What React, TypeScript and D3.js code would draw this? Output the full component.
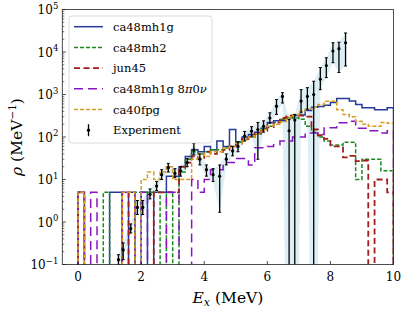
import React, { useEffect, useRef } from 'react';
import * as d3 from 'd3';

// histogram bins: 0.2 MeV wide, starting at 0 MeV (50 bins up to 10 MeV)
const binStart = 0;
const binWidth = 0.2;

const ca48mh1g = [5, 0, 0, 0, 0, 5, 5, 0, 5, 0, 5, 0, 5, 5, 12, 12, 20, 35, 50, 45, 60, 50, 80, 60, 150,
    75, 100, 115, 130, 160, 220, 240, 240, 280, 320, 330, 420, 500, 520, 560, 650, 800, 800, 700, 580, 490, 490, 440, 440, 490];
const ca48mh2 = [0, 0, 0, 0, 5, 0, 0, 0, 0, 5, 5, 5, 5, 0, 5, 0, 15, 30, 45, 40, 45, 50, 50, 55, 60,
    75, 90, 100, 120, 150, 180, 220, 260, 290, 280, 260, 180, 130, 100, 80, 65, 65, 75, 75, 10, 30, 30, 30, 16, 16];
const jun45 = [5, 0, 0, 0, 0, 0, 0, 5, 0, 0, 0, 0, 5, 5, 5, 5, 20, 25, 35, 30, 45, 40, 45, 50, 60,
    70, 90, 100, 120, 140, 170, 220, 280, 320, 330, 320, 300, 150, 110, 90, 60, 60, 33, 36, 27, 28, 0, 10, 10, 5];
const ca48mh1g8pi0nu = [5, 0, 5, 0, 0, 0, 0, 5, 5, 0, 5, 0, 0, 0, 5, 5, 0, 0, 10, 5, 10, 17, 17, 25, 25,
    31, 31, 22, 56, 56, 60, 66, 80, 80, 100, 100, 125, 125, 115, 165, 165, 215, 215, 235, 160, 160, 140, 140, 125, 140];
const ca40fpg = [5, 0, 0, 0, 0, 0, 0, 5, 5, 0, 10, 15, 10, 15, 20, 10, 10, 10, 30, 40, 35, 45, 45, 55, 60,
    70, 85, 100, 120, 150, 180, 200, 230, 280, 330, 400, 450, 500, 580, 690, 690, 440, 340, 300, 235, 200, 180, 180, 220, 210];

// experiment
const expE = [1.28, 1.43, 1.67, 1.88, 2.05, 2.28, 2.49, 2.65, 2.86, 3.07, 3.25, 3.46, 3.67, 3.86, 4.07, 4.28, 4.49, 4.70, 4.90,
    5.07, 5.28, 5.50, 5.70, 5.88, 6.08, 6.29, 6.48, 6.69, 6.87, 7.07, 7.27, 7.47, 7.68, 7.87, 8.08, 8.27, 8.48];
const expRho = [0.13, 0.22, 0.7, 2.2, 2.2, 4.5, 7, 13, 19, 14, 16, 25, 50, 30, 17, 13, 12, 30, 47,
    60, 105, 137, 150, 180, 280, 530, 900, 140, 250, 700, 900, 1000, 2300, 4800, 10500, 12000, 16500];
const expLow = [0.1, 0.13, 0.55, 1.5, 1.5, 3.5, 5.5, 10, 15, 11, 12, 20, 38, 22, 12, 9, 1.7, 22, 36,
    45, 80, 105, 30, 130, 210, 340, 630, 0, 0, 370, 450, 0, 1300, 2500, 5600, 3300, 4700];
const expHigh = [0.17, 0.32, 0.9, 3.2, 3.2, 6, 9, 17, 24, 18, 20, 31, 70, 40, 22, 18, 22, 40, 60,
    78, 135, 175, 220, 240, 370, 760, 1100, 257, 340, 1300, 1450, 2050, 4300, 7300, 16500, 17000, 28000];

const xTicks = [0, 2, 4, 6, 8, 10];
const yExponents = [-1, 0, 1, 2, 3, 4, 5];

const models = [
    { label: 'ca48mh1g', values: ca48mh1g, color: '#263a9c', dash: '', width: 1.5 },
    { label: 'ca48mh2', values: ca48mh2, color: '#178a1e', dash: '4,2', width: 1.5 },
    { label: 'jun45', values: jun45, color: '#a31d1d', dash: '6,3.5', width: 1.8 },
    { label: 'ca48mh1g 8π0ν', values: ca48mh1g8pi0nu, color: '#8a14c4', dash: '9,5', width: 1.5 },
    { label: 'ca40fpg', values: ca40fpg, color: '#d69e22', dash: '4,2', width: 1.5 },
];

const W = 415;
const H = 312;
const left = 62.3, right = 393.5, top = 9.5, bottom = 264.5;
const font = "'DejaVu Serif', serif";

const App: React.FC = () => {
    const ref = useRef<SVGSVGElement>(null);

    useEffect(() => {
        const svg = d3.select(ref.current);
        svg.selectAll('*').remove();

        const x = d3.scaleLinear().domain([-0.5, 10]).range([left, right]);
        const y = d3.scaleLog().domain([0.1, 1e5]).range([bottom, top]);
        const yy = (v: number) => (v > 0 ? y(v) : y(1e-8));

        svg.append('defs').append('clipPath').attr('id', 'plotclip')
            .append('rect').attr('x', left).attr('y', top)
            .attr('width', right - left).attr('height', bottom - top);

        const plot = svg.append('g').attr('clip-path', 'url(#plotclip)');

        // shaded error band
        const band = d3.area<number>()
            .x((d) => x(expE[d]))
            .y0((d) => yy(expLow[d]))
            .y1((d) => yy(expHigh[d]));
        plot.append('path')
            .attr('d', band(expE.map((_, i) => i)))
            .attr('fill', '#add8e6')
            .attr('opacity', 0.42);

        // model histograms
        const line = d3.line<[number, number]>().x((d) => x(d[0])).y((d) => yy(d[1]));
        models.forEach((m) => {
            const pts: [number, number][] = [[binStart, 0]];
            m.values.forEach((v, i) => {
                pts.push([binStart + i * binWidth, v]);
                pts.push([binStart + (i + 1) * binWidth, v]);
            });
            pts.push([binStart + m.values.length * binWidth, 0]);
            plot.append('path')
                .attr('d', line(pts))
                .attr('fill', 'none')
                .attr('stroke', m.color)
                .attr('stroke-width', m.width)
                .attr('stroke-dasharray', m.dash || null);
        });

        // experiment error bars
        const ex = plot.append('g');
        expE.forEach((e, i) => {
            const cx = x(e);
            const y0 = Math.min(yy(expLow[i]), bottom + 5);
            const y1 = yy(expHigh[i]);
            ex.append('line').attr('x1', cx).attr('x2', cx).attr('y1', y0).attr('y2', y1)
                .attr('stroke', 'black').attr('stroke-width', 1.3);
            [y0, y1].forEach((cy) => {
                ex.append('line').attr('x1', cx - 1.5).attr('x2', cx + 1.5).attr('y1', cy).attr('y2', cy)
                    .attr('stroke', 'black').attr('stroke-width', 1);
            });
            ex.append('circle').attr('cx', cx).attr('cy', y(expRho[i])).attr('r', 1.6).attr('fill', 'black');
        });

        // frame
        svg.append('rect').attr('x', left).attr('y', top)
            .attr('width', right - left).attr('height', bottom - top)
            .attr('fill', 'none').attr('stroke', '#222').attr('stroke-width', 0.8);

        // x ticks
        xTicks.forEach((t) => {
            svg.append('line').attr('x1', x(t)).attr('x2', x(t)).attr('y1', bottom).attr('y2', bottom - 3.5)
                .attr('stroke', '#222').attr('stroke-width', 0.8);
            svg.append('text').attr('x', x(t)).attr('y', bottom + 16)
                .attr('text-anchor', 'middle').attr('font-family', font).attr('font-size', 12)
                .text(String(t));
        });

        // y ticks (major + minor)
        yExponents.forEach((p) => {
            const v = Math.pow(10, p);
            svg.append('line').attr('x1', left).attr('x2', left + 3.5).attr('y1', y(v)).attr('y2', y(v))
                .attr('stroke', '#222').attr('stroke-width', 0.8);
            if (p < 5) {
                for (let k = 2; k <= 9; k++) {
                    const yv = y(k * v);
                    svg.append('line').attr('x1', left).attr('x2', left + 2).attr('y1', yv).attr('y2', yv)
                        .attr('stroke', '#222').attr('stroke-width', 0.6);
                }
            }
            const t = svg.append('text').attr('x', left - 4).attr('y', y(v) + 4.5)
                .attr('text-anchor', 'end').attr('font-family', font).attr('font-size', 12);
            t.append('tspan').text('10');
            t.append('tspan').attr('dy', -5.5).attr('font-size', 8.5).text(p < 0 ? '−' + Math.abs(p) : String(p));
        });

        // axis labels
        const xl = svg.append('text').attr('x', (left + right) / 2).attr('y', 303)
            .attr('text-anchor', 'middle').attr('font-family', font).attr('font-size', 15.5);
        xl.append('tspan').attr('font-style', 'italic').text('E');
        xl.append('tspan').attr('font-style', 'italic').attr('font-size', 11).attr('dy', 3).text('x');
        xl.append('tspan').attr('dy', -3).text(' (MeV)');

        const yl = svg.append('text')
            .attr('transform', `translate(22, ${(top + bottom) / 2}) rotate(-90)`)
            .attr('text-anchor', 'middle').attr('font-family', font).attr('font-size', 15.5);
        yl.append('tspan').attr('font-style', 'italic').text('ρ');
        yl.append('tspan').text(' (MeV');
        yl.append('tspan').attr('font-size', 10.5).attr('dy', -6).text('−1');
        yl.append('tspan').attr('dy', 6).text(')');

        // legend
        const lg = svg.append('g');
        lg.append('rect').attr('x', 69).attr('y', 16).attr('width', 143).attr('height', 127)
            .attr('rx', 3).attr('fill', 'white').attr('fill-opacity', 0.8)
            .attr('stroke', '#d0d0d0').attr('stroke-width', 0.8);
        const rowY = (i: number) => 26.7 + i * 20.7;
        models.forEach((m, i) => {
            lg.append('line').attr('x1', 74).attr('x2', 103).attr('y1', rowY(i)).attr('y2', rowY(i))
                .attr('stroke', m.color).attr('stroke-width', m.width)
                .attr('stroke-dasharray', m.dash || null);
            const t = lg.append('text').attr('x', 113).attr('y', rowY(i) + 4.2)
                .attr('font-family', font).attr('font-size', 11.5);
            if (m.label.includes('π')) {
                t.append('tspan').text('ca48mh1g 8');
                t.append('tspan').attr('font-style', 'italic').text('π');
                t.append('tspan').text('0');
                t.append('tspan').attr('font-style', 'italic').text('ν');
            } else {
                t.text(m.label);
            }
        });
        const ey = rowY(5);
        lg.append('line').attr('x1', 88.5).attr('x2', 88.5).attr('y1', ey - 6).attr('y2', ey + 6)
            .attr('stroke', 'black').attr('stroke-width', 1.3);
        lg.append('circle').attr('cx', 88.5).attr('cy', ey).attr('r', 1.6).attr('fill', 'black');
        lg.append('text').attr('x', 113).attr('y', ey + 4.2)
            .attr('font-family', font).attr('font-size', 11.5).text('Experiment');
    }, []);

    return (
        <svg ref={ref} width={W} height={H}
            style={{ position: 'absolute', left: 0, top: 0, background: 'white' }} />
    );
};

export default App;
